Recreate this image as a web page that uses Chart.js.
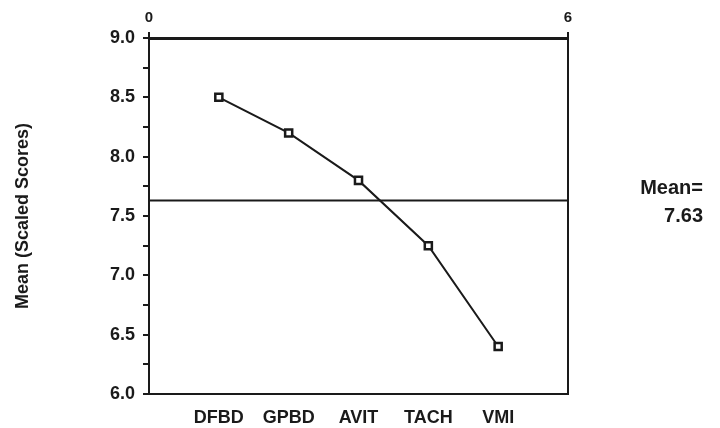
<!DOCTYPE html>
<html><head><meta charset="utf-8">
<script src="https://cdn.jsdelivr.net/npm/chart.js@4"></script>
<style>html,body{margin:0;padding:0;background:#fff}#wrap{width:720px;height:428px}</style>
</head><body><div id="wrap"><canvas id="c" width="720" height="428"></canvas></div>
<script>
const categories = ["DFBD", "GPBD", "AVIT", "TACH", "VMI"];
const positions = [1, 2, 3, 4, 5];
const meanScores = [8.5, 8.2, 7.8, 7.25, 6.4];
const overallMean = 7.63;
const topTicks = [0, 6];
const yTicks = [6.0, 6.5, 7.0, 7.5, 8.0, 8.5, 9.0];

const INK = '#1a1a1a';
const FONT = "'Liberation Sans', Arial, sans-serif";

const meanLabel = {
  id: 'meanLabel',
  afterDraw(chart) {
    const {ctx} = chart;
    const y = chart.scales.y.getPixelForValue(overallMean);
    ctx.save();
    ctx.fillStyle = INK;
    ctx.font = "bold 20px " + FONT;
    ctx.textAlign = 'right';
    ctx.textBaseline = 'middle';
    ctx.fillText('Mean=', 703, y - 12);
    ctx.fillText(overallMean.toFixed(2), 703, y + 16);
    ctx.restore();
  }
};

new Chart(document.getElementById('c'), {
  type: 'line',
  data: {
    datasets: [
      {
        data: positions.map((p, i) => ({x: p, y: meanScores[i]})),
        borderColor: INK, borderWidth: 2,
        pointStyle: 'rect', pointRadius: 5,
        pointBackgroundColor: '#fff', pointBorderColor: INK, pointBorderWidth: 2.5,
        tension: 0
      },
      {
        data: topTicks.map(t => ({x: t, y: overallMean})),
        borderColor: INK, borderWidth: 2, pointRadius: 0, tension: 0
      }
    ]
  },
  options: {
    responsive: false, animation: false,
    layout: {padding: {left: 12, top: 0, right: 0, bottom: 0}},
    plugins: {legend: {display: false}, tooltip: {enabled: false}},
    scales: {
      x: {
        type: 'linear', position: 'bottom', min: 0, max: 6,
        afterBuildTicks: s => { s.ticks = positions.map(v => ({value: v})); },
        afterFit: s => { s.height = 34; },
        ticks: {callback: v => categories[positions.indexOf(v)] || '', color: INK,
          font: {family: FONT, size: 18, weight: 'bold'}, padding: 13, maxRotation: 0},
        grid: {display: true, drawOnChartArea: false, drawTicks: false},
        border: {display: true, color: INK, width: 2}
      },
      x2: {
        type: 'linear', position: 'top', min: 0, max: 6,
        afterBuildTicks: s => { s.ticks = topTicks.map(v => ({value: v})); },
        afterFit: s => { s.height = 38; },
        ticks: {color: INK, font: {family: FONT, size: 15, weight: 'bold'}, padding: 5},
        grid: {drawOnChartArea: false, tickLength: 6, color: INK, lineWidth: 2},
        border: {display: true, color: INK, width: 3}
      },
      y: {
        min: 6, max: 9,
        afterBuildTicks: s => { const t = []; for (let v = 6; v <= 9.001; v += 0.25) t.push({value: Math.round(v*100)/100}); s.ticks = t; },
        afterFit: s => { s.width = 137; },
        ticks: {callback: v => yTicks.includes(v) ? v.toFixed(1) : '', color: INK,
          font: {family: FONT, size: 18, weight: 'bold'}, padding: 8},
        grid: {drawOnChartArea: false, tickLength: 6, color: INK, lineWidth: 2},
        border: {display: true, color: INK, width: 2},
        title: {display: true, text: 'Mean (Scaled Scores)', color: INK,
          font: {family: FONT, size: 18, weight: 'bold'}, padding: {top: 0, bottom: 0}}
      },
      y2: {
        position: 'right', min: 6, max: 9,
        afterFit: s => { s.width = 152; },
        ticks: {display: false},
        grid: {display: false},
        border: {display: true, color: INK, width: 2}
      }
    }
  },
  plugins: [meanLabel]
});
</script></body></html>
